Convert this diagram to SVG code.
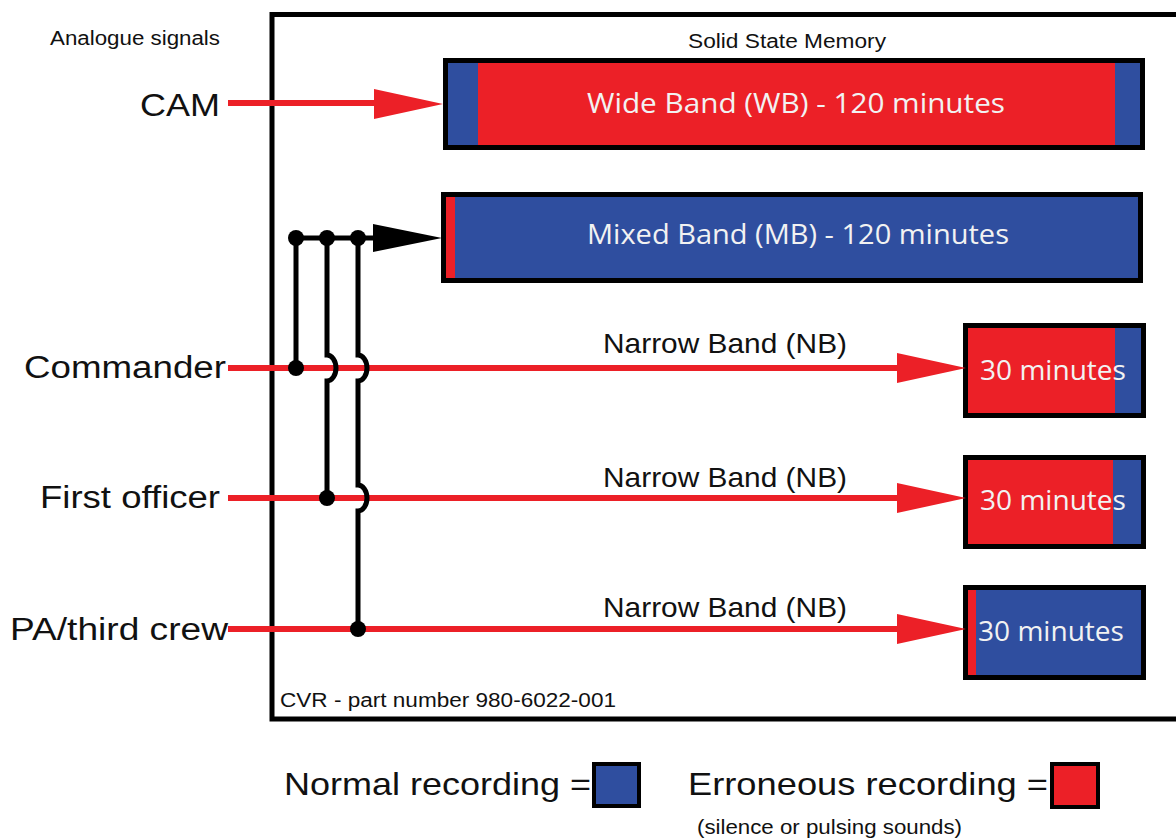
<svg xmlns="http://www.w3.org/2000/svg" width="1176" height="840" viewBox="0 0 1176 840">
<style>
.lbl{font-family:"Liberation Sans",Arial,sans-serif;fill:#111}
.inb{font-family:"Open Sans","Noto Sans",sans-serif;fill:#f2f2f2}
.red{fill:#ec2027}
.blue{fill:#2f4e9f}
.blk{fill:#000}
.rline{stroke:#ec2027;stroke-width:6;fill:none}
.bline{stroke:#000;stroke-width:5;fill:none}
</style>
<defs>
<path id="arrowR" d="M0,-15 L69,0 L0,15 Z" fill="#ec2027"/>
<path id="arrowB" d="M0,-14 L69,0 L0,14 Z" fill="#000"/>
</defs>
<rect width="1176" height="840" fill="#fff"/>

<g id="cvr-frame">
<path d="M1180,14.5 H272 V719 H1180" class="bline"/>
<text class="lbl" x="280" y="707" font-size="20" textLength="336" lengthAdjust="spacingAndGlyphs">CVR - part number 980-6022-001</text>
</g>

<g id="titles">
<text class="lbl" x="50" y="45" font-size="20" textLength="170" lengthAdjust="spacingAndGlyphs">Analogue signals</text>
<text class="lbl" x="688" y="48" font-size="20" textLength="198" lengthAdjust="spacingAndGlyphs">Solid State Memory</text>
</g>

<g id="src-cam"><text class="lbl" x="140" y="116" font-size="31" textLength="80" lengthAdjust="spacingAndGlyphs">CAM</text></g>
<g id="src-commander"><text class="lbl" x="24" y="378" font-size="31" textLength="202" lengthAdjust="spacingAndGlyphs">Commander</text></g>
<g id="src-first-officer"><text class="lbl" x="40" y="508" font-size="31" textLength="180" lengthAdjust="spacingAndGlyphs">First officer</text></g>
<g id="src-pa"><text class="lbl" x="10" y="640" font-size="31" textLength="218" lengthAdjust="spacingAndGlyphs">PA/third crew</text></g>

<g id="wb">
<rect class="blk" x="443" y="58" width="702" height="92"/>
<rect class="red" x="448" y="63" width="692" height="82"/>
<rect class="blue" x="448" y="63" width="30" height="82"/>
<rect class="blue" x="1115" y="63" width="25" height="82"/>
<text class="inb" x="587" y="113" font-size="27" textLength="418" lengthAdjust="spacingAndGlyphs">Wide Band (WB) - 120 minutes</text>
</g>

<g id="mb">
<rect class="blk" x="441" y="192" width="702" height="91"/>
<rect class="blue" x="446" y="197" width="692" height="81"/>
<rect class="red" x="446" y="197" width="9" height="81"/>
<text class="inb" x="587" y="244" font-size="27" textLength="422" lengthAdjust="spacingAndGlyphs">Mixed Band (MB) - 120 minutes</text>
</g>

<g id="nb1">
<rect class="blk" x="963" y="323" width="183" height="95"/>
<rect class="blue" x="968" y="328" width="173" height="85"/>
<rect class="red" x="968" y="328" width="147" height="85"/>
<text class="inb" x="980" y="380" font-size="28" textLength="146" lengthAdjust="spacingAndGlyphs">30 minutes</text>
</g>

<g id="nb2">
<rect class="blk" x="963" y="455" width="183" height="94"/>
<rect class="blue" x="968" y="460" width="173" height="84"/>
<rect class="red" x="968" y="460" width="145" height="84"/>
<text class="inb" x="980" y="510" font-size="28" textLength="146" lengthAdjust="spacingAndGlyphs">30 minutes</text>
</g>

<g id="nb3">
<rect class="blk" x="963" y="585" width="183" height="95"/>
<rect class="blue" x="968" y="590" width="173" height="85"/>
<rect class="red" x="968" y="590" width="8" height="85"/>
<text class="inb" x="978" y="641" font-size="28" textLength="146" lengthAdjust="spacingAndGlyphs">30 minutes</text>
</g>

<g id="connectors">
<path class="rline" d="M228,103 H380"/>
<use href="#arrowR" x="374" y="104"/>
<path class="rline" d="M228,368 H900"/>
<use href="#arrowR" x="897" y="368"/>
<path class="rline" d="M228,498 H900"/>
<use href="#arrowR" x="897" y="498"/>
<path class="rline" d="M228,629 H900"/>
<use href="#arrowR" x="897" y="629"/>
<path class="bline" d="M296,238 H378"/>
<use href="#arrowB" x="373" y="238"/>
<path class="bline" d="M296,238 V368"/>
<path class="bline" d="M327,238 V355 A9,13 0 0 1 327,381 V498"/>
<path class="bline" d="M358,238 V355 A9,13 0 0 1 358,381 V485 A9,13 0 0 1 358,511 V629"/>
<circle class="blk" cx="296" cy="238" r="8"/>
<circle class="blk" cx="327" cy="238" r="8"/>
<circle class="blk" cx="358" cy="238" r="8"/>
<circle class="blk" cx="296" cy="368" r="8"/>
<circle class="blk" cx="327" cy="498" r="8"/>
<circle class="blk" cx="358" cy="629" r="8"/>
<text class="lbl" x="603" y="353" font-size="28" textLength="244" lengthAdjust="spacingAndGlyphs">Narrow Band (NB)</text>
<text class="lbl" x="603" y="487" font-size="28" textLength="244" lengthAdjust="spacingAndGlyphs">Narrow Band (NB)</text>
<text class="lbl" x="603" y="617" font-size="28" textLength="244" lengthAdjust="spacingAndGlyphs">Narrow Band (NB)</text>
</g>

<g id="legend">
<text class="lbl" x="284" y="795" font-size="32" textLength="307" lengthAdjust="spacingAndGlyphs">Normal recording =</text>
<rect class="blk" x="592" y="762" width="49" height="46"/>
<rect class="blue" x="596" y="766" width="41" height="38"/>
<text class="lbl" x="688" y="795" font-size="32" textLength="360" lengthAdjust="spacingAndGlyphs">Erroneous recording =</text>
<rect class="blk" x="1050" y="762" width="50" height="47"/>
<rect class="red" x="1054" y="766" width="42" height="39"/>
<text class="lbl" x="697" y="834" font-size="20" textLength="265" lengthAdjust="spacingAndGlyphs">(silence or pulsing sounds)</text>
</g>
</svg>
